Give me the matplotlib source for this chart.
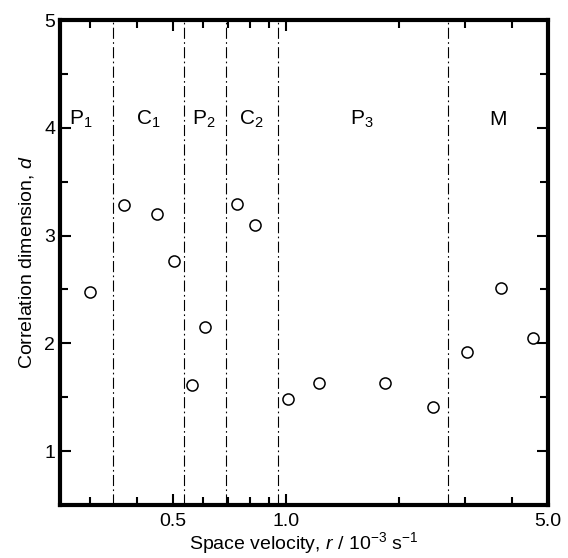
import numpy as np
import matplotlib
matplotlib.use('Agg')
import matplotlib.pyplot as plt
from matplotlib.ticker import FixedLocator, NullFormatter, MultipleLocator

plt.rcParams['font.family'] = ['Liberation Sans', 'DejaVu Sans']
plt.rcParams['mathtext.fontset'] = 'custom'
plt.rcParams['mathtext.rm'] = 'Liberation Sans'
plt.rcParams['mathtext.it'] = 'Liberation Sans:italic'
plt.rcParams['mathtext.default'] = 'regular'

# space velocity (1e-3 s^-1) and correlation dimension
velocity = [0.30, 0.37, 0.452, 0.503, 0.561, 0.61, 0.74, 0.825,
            1.01, 1.225, 1.835, 2.47, 3.03, 3.75, 4.56]
dimension = [2.48, 3.28, 3.20, 2.76, 1.61, 2.15, 3.29, 3.10,
             1.48, 1.63, 1.63, 1.41, 1.92, 2.51, 2.05]

# regime boundaries
boundaries = [0.346, 0.534, 0.693, 0.953, 2.70]
regimes = ['P$_1$', 'C$_1$', 'P$_2$', 'C$_2$', 'P$_3$', 'M']
regime_x = [0.283, 0.43, 0.605, 0.808, 1.59, 3.67]
regime_y = 4.08

fig = plt.figure(figsize=(5.68, 5.58), dpi=100)
ax = fig.add_axes([0.106, 0.095, 0.859, 0.869])

ax.set_xscale('log')
ax.set_xlim(0.25, 5.0)
ax.set_ylim(0.5, 5.0)

for b in boundaries:
    ax.axvline(b, color='black', lw=0.8, ls=(0, (10, 3, 1.5, 3)))

ax.plot(velocity, dimension, 'o', ms=8, mfc='white', mec='black', mew=1.1, zorder=3)

for lab, x in zip(regimes, regime_x):
    ax.text(x, regime_y, lab, ha='center', va='center', fontsize=15)

ax.xaxis.set_major_locator(FixedLocator([0.5, 1.0, 5.0]))
ax.xaxis.set_major_formatter(matplotlib.ticker.FixedFormatter(['0.5', '1.0', '5.0']))
ax.xaxis.set_minor_locator(FixedLocator([0.3, 0.4, 0.6, 0.7, 0.8, 0.9, 2, 3, 4]))
ax.xaxis.set_minor_formatter(NullFormatter())
ax.yaxis.set_major_locator(MultipleLocator(1))
ax.yaxis.set_minor_locator(MultipleLocator(0.5))

ax.tick_params(which='both', direction='in', top=True, right=True, width=1.5,
               labelsize=14)
ax.tick_params(which='major', length=8)
ax.tick_params(which='minor', length=6)
ax.tick_params(axis='x', pad=6)

for s in ax.spines.values():
    s.set_linewidth(3)

ax.set_xlabel('Space velocity, $\\mathit{r}$ / 10$^{-3}$ s$^{-1}$', fontsize=14, labelpad=0)
ax.set_ylabel('Correlation dimension, $\\mathit{d}$', fontsize=14, labelpad=6)

fig.savefig('out.png', dpi=100)
